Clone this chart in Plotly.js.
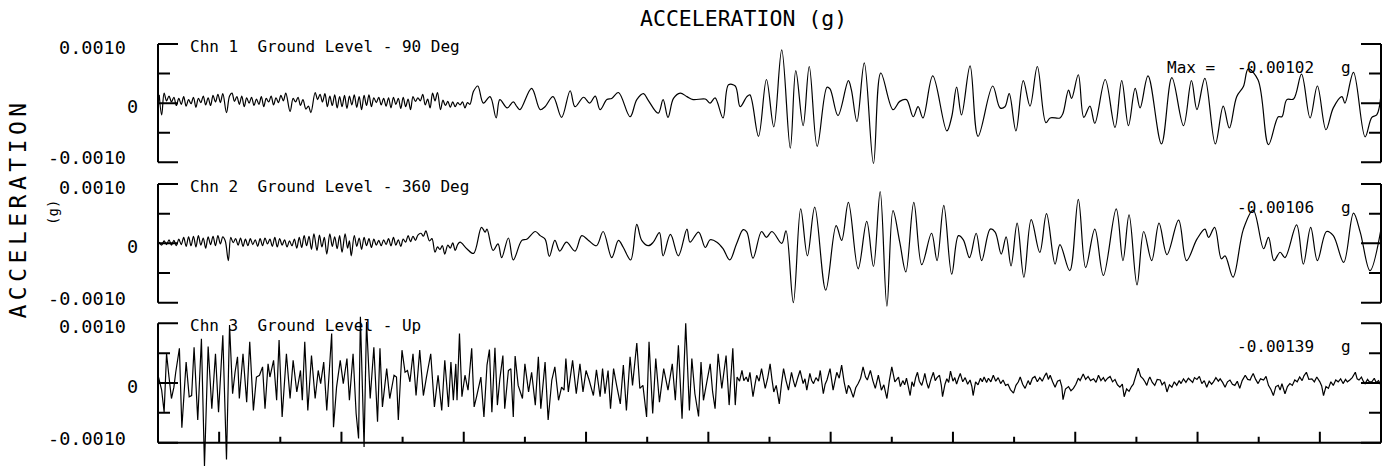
<!DOCTYPE html>
<html><head><meta charset="utf-8">
<script src="https://cdn.plot.ly/plotly-3.0.1.min.js"></script>
<style>
html,body{margin:0;padding:0;background:#fff;overflow:hidden;}
#chart{width:1392px;height:466px;}
.annotation-text{white-space:pre;}
</style>
</head><body><div id="chart"></div>
<script>
// ---- Channel 1 : Ground Level - 90 Deg (time s, acceleration g)
const t1Quiet = [0.02,0.06,0.10,0.14,0.18,0.22,0.26,0.30,0.34,0.38,0.42,0.46,0.50,0.54,0.58,0.62,0.66,0.70,0.74,0.78,0.82,0.86,0.90,0.94,0.98,1.02,1.06,1.12,1.17,1.21,1.25,1.29,1.33,1.37,1.41,1.45,1.49,1.53,1.57,1.61,1.65,1.69,1.73,1.77,1.81,1.85,1.89,1.93,1.97,2.01,2.05,2.09,2.16,2.21,2.25,2.29,2.33,2.37,2.42,2.46,2.50,2.57,2.61,2.65,2.69,2.73,2.77,2.81,2.85,2.89,2.93,2.97,3.01,3.05,3.09,3.13,3.17,3.21,3.25,3.29,3.33,3.37,3.41,3.45,3.49,3.53,3.57,3.61,3.65,3.69,3.73,3.77,3.81,3.85,3.89,3.93,3.97,4.01,4.05,4.09,4.13,4.17,4.21,4.25,4.29,4.33,4.37,4.41,4.45,4.49,4.53,4.57,4.62,4.66,4.70,4.74,4.78,4.82,4.86,4.90,4.94,4.98,5.02,5.06,5.10,5.16,5.23];
const a1Quiet = [0.00014,-0.0002,0.00017,0.00004,0.00012,0.00002,0.0001,-0.00004,0.00008,-0.00002,0.00011,-0.00005,0.00006,-0.00001,0.0001,-0.00007,0.00008,0.00001,0.00012,-0.00003,0.00009,-0.00004,0.00013,0.00002,0.00015,0.00001,0.00016,-0.00016,0.00012,0.00017,0.00003,0.00011,-0.00002,0.00012,-0.00006,0.00009,0,0.0001,-0.00004,0.00007,-0.00002,0.00011,-0.00006,0.00008,0.00002,0.00012,-0.00003,0.00009,0.00001,0.00013,0.00004,0.00017,-0.00014,0.00008,0.00002,0.0001,-0.00004,0.00006,-0.0001,-0.00005,-0.00016,0.00018,0.00006,0.00015,0.00002,0.00016,-0.00006,0.00012,-0.00004,0.00014,-0.00008,0.00011,-0.00006,0.00013,-0.00009,0.00012,-0.00003,0.00014,-0.00007,0.00011,-0.00011,0.00013,-0.00004,0.00014,-0.00006,0.00009,0.00001,0.0001,-0.00003,0.00008,-0.00005,0.00009,-0.00008,0.0001,-0.00002,0.00008,-0.00009,0.0001,-0.00006,0.00007,-0.00011,0.00011,0.00003,0.00009,0.00004,0.00015,-0.00003,0.00007,-0.00008,0.00017,0.00004,0.00018,-0.00011,0.00005,-0.00004,0.00003,-0.00007,0.00002,-0.00006,0.00001,-0.00003,0.00002,-0.00008,0.00001,-0.00002,0.0002,0.00029];
const t1Strong = [5.32,5.43,5.53,5.59,5.71,5.81,5.87,5.92,6.11,6.25,6.33,6.46,6.60,6.74,6.82,6.96,7.06,7.15,7.23,7.34,7.42,7.53,7.72,7.83,7.94,8.01,8.18,8.26,8.34,8.43,8.54,8.65,8.75,8.95,9.03,9.11,9.24,9.33,9.44,9.52,9.63,9.68,9.82,9.95,10.07,10.20,10.34,10.43,10.55,10.65,10.78,10.94,10.99,11.12,11.29,11.34,11.43,11.55,11.70,11.82,12.02,12.13,12.24,12.35,12.43,12.51,12.67,12.90,12.98,13.06,13.14,13.28,13.41,13.65,13.77,13.85,13.92,14.03,14.15,14.26,14.38,14.52,14.59,14.75,14.80,14.89,14.94,15.05,15.14,15.24,15.32,15.49,15.65,15.76,15.87,15.98,16.06,16.19,16.41,16.58,16.77,16.90,16.99,17.12,17.29,17.42,17.52,17.64,17.75,17.83,17.99,18.16,18.32,18.38,18.46,18.57,18.70,18.84,18.96,19.10,19.22,19.36,19.41,19.55,19.74,19.85,19.93,20.00];
const a1Strong = [0,0.00011,-0.00025,0.00006,-0.00008,0.00002,-0.00006,-0.00011,0.00025,-0.00011,-0.00006,0.00011,-0.00024,0.00021,-0.00006,0.0001,0,0.00012,-0.00011,0.00006,0.00008,0.00018,-0.00023,0.00006,0.00016,0.00006,-0.00017,0.00006,-0.00024,0.00008,0.00017,0.00011,0.00006,0.00007,0,0.00009,-0.00025,0.00031,0.00029,-0.00006,0.00011,0.00014,-0.00056,0.0004,-0.0004,0.0009,-0.00076,0.00055,-0.00038,0.00062,-0.00073,0.00027,0.00024,-0.00021,0.00038,0.00022,-0.00031,0.00068,-0.00102,0.00051,-0.00011,0.00003,0.00006,-0.00023,-0.00006,-0.00025,0.00046,-0.00047,-0.00023,0.00027,-0.0002,0.00063,-0.00056,0.00029,-0.00008,-0.00006,0.00016,-0.00047,0.00038,-0.00005,0.00062,-0.00033,-0.00025,-0.00025,-0.00017,0.00022,0.00008,0.00048,-0.00024,-0.00005,-0.00034,0.0004,-0.00041,0.00038,-0.00038,0.00025,-0.00008,0.00046,-0.00069,0.00043,-0.00038,0.00038,-0.00011,0.00042,-0.00069,-0.00005,-0.00042,0.00011,0.00028,0.00058,0.00039,-0.0007,-0.00023,-0.00023,0.00006,0.00007,0.00049,-0.00025,0.00029,-0.00045,-0.00008,0.00011,0,0.00052,-0.00057,-0.00024,-0.0002,0.00014];

// ---- Channel 2 : Ground Level - 360 Deg
const t2Quiet = [0.02,0.06,0.10,0.14,0.18,0.22,0.26,0.30,0.34,0.38,0.42,0.46,0.50,0.54,0.58,0.62,0.66,0.70,0.74,0.78,0.82,0.86,0.90,0.94,0.98,1.02,1.06,1.10,1.15,1.19,1.23,1.27,1.31,1.35,1.39,1.43,1.47,1.51,1.55,1.59,1.63,1.67,1.71,1.75,1.79,1.83,1.87,1.91,1.95,1.99,2.03,2.07,2.11,2.15,2.19,2.23,2.27,2.31,2.35,2.39,2.43,2.47,2.51,2.55,2.60,2.64,2.68,2.72,2.76,2.81,2.85,2.89,2.93,2.97,3.01,3.06,3.10,3.13,3.16,3.21,3.25,3.29,3.33,3.37,3.41,3.45,3.49,3.53,3.57,3.61,3.65,3.69,3.73,3.77,3.81,3.85,3.89,3.93,3.97,4.01,4.05,4.09,4.13,4.17,4.21,4.25,4.30,4.34,4.38,4.44,4.48,4.53,4.57,4.61,4.65,4.69,4.74,4.78,4.82,4.86,4.90,4.94];
const a2Quiet = [0.00002,-0.00003,0.00004,-0.00002,0.00006,-0.00003,0.00005,-0.00004,0.00007,-0.00002,0.0001,-0.00005,0.00011,-0.00004,0.00012,-0.00006,0.00013,-0.00003,0.00009,-0.00008,0.00011,-0.00002,0.00012,-0.00004,0.00013,-0.00001,0.00011,0.00004,-0.00029,0.0001,0.00001,0.00008,-0.00003,0.00009,-0.00005,0.00007,-0.00004,0.00008,-0.00002,0.00006,-0.00005,0.00008,-0.00004,0.00009,-0.00001,0.00007,-0.00005,0.0001,-0.00006,0.00008,-0.00003,0.00006,-0.00006,0.00004,-0.00004,0.00007,-0.00008,0.0001,-0.00007,0.00013,-0.00004,0.00012,-0.0001,0.00016,-0.00012,0.00014,-0.00006,0.0001,-0.00018,0.00016,-0.00005,0.00011,-0.00009,0.00013,-0.00015,0.00016,-0.00008,0.00004,-0.00021,0.00013,-0.00005,0.00009,-0.0001,0.0001,-0.00004,0.00008,-0.00007,0.00007,-0.00003,0.00005,-0.00004,0.00006,-0.00002,0.00008,-0.00004,0.0001,-0.00003,0.00006,-0.00005,0.00007,0.00002,0.00013,0.00003,0.00012,0.00005,0.00014,0.00017,0.00012,0.00021,0.00004,0.00008,-0.00015,-0.00006,-0.0001,-0.00004,-0.00018,-0.00003,-0.00008,0.00001,-0.00012,-0.00002,0.00002];
const t2Strong = [5.05,5.16,5.29,5.35,5.38,5.48,5.56,5.62,5.73,5.81,5.95,6.03,6.17,6.25,6.33,6.40,6.49,6.57,6.68,6.82,6.93,7.04,7.17,7.28,7.42,7.53,7.61,7.73,7.83,7.91,8.02,8.10,8.20,8.26,8.38,8.51,8.65,8.70,8.84,8.95,9.03,9.14,9.24,9.35,9.46,9.57,9.63,9.73,9.87,9.95,10.04,10.20,10.27,10.39,10.51,10.62,10.74,10.92,11.09,11.18,11.29,11.45,11.59,11.70,11.81,11.92,12.02,12.13,12.23,12.36,12.49,12.65,12.74,12.85,12.98,13.09,13.17,13.27,13.38,13.47,13.61,13.69,13.79,13.87,13.95,14.05,14.16,14.28,14.42,14.53,14.67,14.75,14.91,15.05,15.17,15.32,15.46,15.67,15.78,15.88,16.01,16.12,16.25,16.37,16.50,16.69,16.82,16.99,17.12,17.18,17.28,17.39,17.45,17.58,17.75,17.91,18.08,18.16,18.25,18.35,18.43,18.62,18.73,18.85,18.96,19.11,19.22,19.39,19.55,19.66,19.82,20.00];
const a2Strong = [-0.00009,-0.00017,0.00027,0.00019,0.00024,-0.00012,-0.00001,-0.00024,0.00009,-0.00028,0.00005,0.00007,0.0002,0.00013,0.00007,-0.00022,0.00005,-0.00013,0.00002,-0.00013,0.00013,0.00005,-0.00004,0.0002,-0.00024,0.00005,-0.00007,-0.00028,0.00032,0.00005,-0.00004,0.00002,0.00018,-0.00021,0.00015,-0.00021,0.00024,0.00002,0.00019,-0.00007,0.00006,0.00002,-0.00009,-0.00028,-0.00001,0.00023,0.00019,-0.00025,0.0002,0.0001,0.0002,0,0.00021,-0.001,0.00058,-0.00021,0.00061,-0.00079,0.0003,0.00005,0.00069,-0.00043,0.00037,-0.00039,0.00087,-0.00106,0.00055,0.00002,-0.00048,0.00069,-0.00036,0.00017,-0.00029,0.00064,-0.00052,0.00013,0.00006,-0.00024,0.00017,-0.00029,0.00024,0.00019,-0.00018,0.00011,-0.00038,0.00034,-0.00057,0.0004,-0.00015,0.0005,-0.00035,-0.00002,-0.00046,0.00074,-0.00041,0.00024,-0.00054,0.00058,-0.00029,0.00048,-0.0007,0.0002,-0.00029,0.00034,-0.00019,0.00039,-0.00029,0.00007,0.00024,0.0001,0.00027,-0.00026,-0.00021,-0.00057,0.00024,0.00056,-0.00009,0.0001,-0.00029,-0.00015,-0.00024,0.00031,-0.00035,0.00027,-0.00029,0.0002,0.00013,-0.00032,0.00051,0.00019,-0.00046,0.00024];

// ---- Channel 3 : Ground Level - Up
const t3Strong = [0.00,0.06,0.10,0.14,0.18,0.22,0.26,0.29,0.35,0.39,0.46,0.51,0.55,0.59,0.65,0.71,0.76,0.82,0.88,0.94,0.99,1.06,1.12,1.17,1.22,1.26,1.30,1.33,1.39,1.45,1.50,1.56,1.61,1.66,1.71,1.75,1.80,1.83,1.89,1.94,1.98,2.03,2.10,2.16,2.21,2.27,2.33,2.36,2.40,2.45,2.51,2.57,2.62,2.66,2.71,2.76,2.84,2.87,2.92,2.98,3.03,3.09,3.13,3.19,3.24,3.28,3.31,3.37,3.41,3.47,3.53,3.59,3.63,3.67,3.74,3.79,3.86,3.90,3.93,3.99,4.04,4.08,4.12,4.17,4.22,4.28,4.34,4.39,4.46,4.52,4.58,4.64,4.69,4.75,4.79,4.83,4.87,4.89,4.93,4.97,5.02,5.07,5.13,5.17,5.21,5.28,5.33,5.38,5.42,5.46,5.51,5.55,5.59,5.64,5.67,5.73,5.77,5.81,5.84,5.89,5.96,6.00,6.06,6.11,6.17,6.22,6.26,6.33,6.38,6.44,6.49,6.55,6.60,6.64,6.67,6.71,6.78,6.84,6.90,6.95,7.00,7.05,7.12,7.17,7.23,7.27,7.31,7.36,7.40,7.45,7.50,7.56,7.61,7.66,7.72,7.76,7.83,7.88,7.93,7.99,8.03,8.09,8.14,8.20,8.27,8.34,8.41,8.46,8.51,8.57,8.63,8.69,8.73,8.78,8.84,8.88,8.92,8.97,9.03,9.07,9.11,9.16,9.22,9.29,9.34,9.40,9.44];
const a3Strong = [0.00013,-0.00012,-0.00049,0.00049,0.0001,-0.00026,-0.00007,0.00018,0.00058,-0.00075,0.00035,-0.00023,-0.00021,0.0006,-0.00062,0.00074,-0.00139,0.00061,-0.00043,0.00049,-0.00049,0.0008,-0.00128,0.00097,-0.00018,0.00018,0.00044,-0.00026,0.00049,-0.00032,0.00069,-0.00046,0.0001,0.00013,0.00027,-0.00043,0.00032,0.0001,0.00038,-0.00029,0.00072,-0.00057,0.00049,-0.00026,0.00038,-0.00015,0.00021,-0.00029,0.00069,-0.00046,0.00046,-0.00026,0.00021,-0.00001,0.00035,-0.00046,0.00083,-0.00074,-0.00007,0.00038,-0.00001,0.00041,-0.00029,0.00049,-0.00051,-0.00093,0.00111,-0.00107,0.00102,-0.00026,0.0006,-0.00065,0.00058,-0.0004,0.00024,-0.00026,0.00013,0.0001,-0.00062,0.00055,0.00018,0.00021,0.00002,0.00049,-0.00021,0.00055,-0.00021,0.0001,0.00049,-0.0004,0.00013,-0.00046,0.00038,-0.0004,0.00035,-0.00029,0.00032,-0.00029,0.00083,-0.00023,0.00013,-0.00012,0.00058,-0.0004,-0.00023,0.0001,-0.00057,0.0003,0.00056,-0.00049,0.00059,-0.00037,0.00007,0.00046,-0.00043,0.00021,0.00024,-0.00057,0.00045,-0.00004,-0.00026,0.00032,-0.00015,0.00018,-0.00037,0.00044,-0.00043,0.00035,-0.00062,0.00005,0.00027,-0.00029,-0.00007,-0.00012,0.00041,-0.00015,0.00038,-0.00018,0.00032,-0.00015,0.00021,0.00005,-0.00021,0.00022,-0.00023,0.00024,-0.00018,0.00021,-0.00043,0.00024,-0.00004,-0.00035,0.0003,-0.00046,0.00044,-0.00004,0.00067,-0.00009,-0.00004,-0.00057,0.00069,-0.00051,0.00041,-0.00032,0.00024,-0.00012,0.00032,-0.00029,0.00063,-0.0006,0.001,-0.00046,0.00041,-0.00018,-0.00056,0.00035,-0.00029,-0.00001,0.00032,-0.00015,-0.00043,0.00049,-0.00009,0.00046,-0.00037,0.00058,-0.00037];
const t3Quiet = [9.47,9.51,9.55,9.58,9.62,9.65,9.68,9.73,9.76,9.79,9.83,9.87,9.93,9.97,10.01,10.04,10.07,10.11,10.16,10.20,10.23,10.27,10.31,10.36,10.39,10.42,10.46,10.50,10.55,10.58,10.61,10.66,10.69,10.72,10.76,10.80,10.83,10.88,10.91,10.94,10.99,11.04,11.07,11.10,11.14,11.18,11.22,11.26,11.29,11.32,11.37,11.41,11.45,11.49,11.53,11.57,11.60,11.65,11.69,11.73,11.78,11.83,11.87,11.92,11.96,12.00,12.05,12.11,12.14,12.18,12.21,12.24,12.27,12.30,12.33,12.36,12.39,12.42,12.45,12.49,12.52,12.54,12.57,12.60,12.64,12.68,12.71,12.74,12.78,12.81,12.83,12.87,12.90,12.93,12.96,13.00,13.03,13.06,13.09,13.12,13.16,13.20,13.24,13.28,13.31,13.33,13.37,13.41,13.45,13.48,13.51,13.55,13.58,13.62,13.66,13.70,13.74,13.78,13.82,13.86,13.90,13.94,13.99,14.03,14.07,14.10,14.14,14.18,14.23,14.26,14.30,14.34,14.38,14.42,14.46,14.50,14.53,14.56,14.59,14.63,14.67,14.71,14.75,14.78,14.80,14.84,14.89,14.93,14.97,15.01,15.05,15.08,15.13,15.17,15.21,15.25,15.30,15.34,15.38,15.42,15.46,15.49,15.53,15.57,15.61,15.65,15.69,15.73,15.77,15.80,15.84,15.88,15.92,15.95,15.99,16.03,16.07,16.11,16.14,16.17,16.20,16.22,16.26,16.30,16.34,16.39,16.42,16.46,16.50,16.54,16.58,16.62,16.66,16.70,16.73,16.77,16.81,16.85,16.88,16.92,16.95,16.99,17.03,17.07,17.11,17.15,17.19,17.23,17.26,17.30,17.34,17.37,17.41,17.45,17.49,17.53,17.57,17.61,17.65,17.69,17.73,17.78,17.82,17.86,17.88,17.91,17.95,17.99,18.03,18.08,18.12,18.16,18.20,18.24,18.28,18.32,18.35,18.38,18.40,18.43,18.47,18.51,18.55,18.59,18.63,18.67,18.71,18.74,18.78,18.82,18.87,18.91,18.95,19.00,19.03,19.06,19.10,19.14,19.18,19.22,19.26,19.30,19.34,19.38,19.42,19.45,19.49,19.53,19.58,19.61,19.64,19.68,19.71,19.74,19.78,19.81,19.85,19.89,19.92,19.96,20.00];
const a3Quiet = [0.0001,0.00003,0.00021,0.00004,0.0001,0.00002,0.00018,-0.00023,-0.00004,0.00013,0.00003,0.00024,-0.00009,0.00008,0.00032,0.00006,-0.00015,-0.00004,-0.00035,0.00002,0.00024,0.00004,-0.00012,0.00018,0.00004,-0.00007,0.00008,0.00021,-0.00001,0.00007,-0.00012,0.00016,0.00004,-0.00001,0.00009,0.00003,0.00021,-0.00018,-0.00002,0.00005,0.00024,-0.00012,0.00003,0.00018,0.00008,0.0003,0.00002,-0.00018,-0.00004,-0.00009,-0.00024,-0.00008,-0.00001,0.00008,0.00027,0.0001,0.00005,0.00021,0.00004,-0.00009,0.00013,-0.00012,-0.00003,-0.00026,0.00004,0.00027,0.00002,0.0001,-0.00006,0.00004,-0.00003,0.00008,-0.00006,-0.00021,0.00002,-0.00006,0.00009,0.00018,0.00003,-0.00004,0.00007,0.00016,0.00001,-0.00009,0.00006,0.00018,0.00004,0.00009,0.00013,-0.00004,-0.00023,-0.00002,0.00007,0.00001,0.0002,0.00003,0.00009,-0.00002,0.00008,0.00016,0.00002,0.00009,-0.00002,0.00005,-0.00006,-0.00021,0.00002,-0.00003,0.00008,0.00002,0.0001,0.00001,0.00008,0.00002,0.00013,0.00003,0.00009,-0.00001,0.00005,-0.00004,-0.00002,-0.00011,-0.00017,-0.00004,0.00002,0.0001,-0.00002,-0.00009,0.00004,-0.00003,0.00008,0.00011,0.00002,0.00009,0.00003,0.00012,0.00017,0.00006,0.00013,0.00002,-0.00007,0.00003,0.00005,-0.00006,-0.00028,-0.0001,-0.00006,-0.00013,-0.00009,-0.00002,0.00008,0.00004,0.00015,0.00006,0.00011,0.00004,0.00007,0.00001,0.00013,0.00004,0.00009,0.00003,0.00008,0.00011,0.00002,0.00006,-0.00003,-0.00007,-0.00002,-0.00023,-0.0001,-0.00014,-0.00006,-0.00002,0.00012,0.00025,0.00011,0.00007,0.00002,-0.00004,0.00006,0.0001,0.00001,-0.00004,0.00006,0.00005,-0.00003,0.00002,-0.00015,-0.00003,-0.00007,0.00002,-0.00004,0.00004,-0.00001,0.00007,0.00001,0.00008,0.00005,0.00001,0.00009,0.00006,0.00011,-0.00001,0.00004,-0.00007,0.00003,-0.00002,0.00002,0.00009,0.00003,0.00007,0.00001,-0.00007,0.00002,0.00005,-0.00002,-0.00004,0.00003,-0.00009,0.00004,0.00013,0.00006,0.00005,0.0001,0.00016,0.00006,-0.00001,0.00007,0.00005,0.00011,-0.00004,-0.00011,-0.00021,-0.00006,-0.00004,-0.00012,-0.00001,-0.00008,-0.00018,-0.00006,-0.00001,-0.00004,0.00005,0.00002,0.0001,0.00004,0.00012,0.00018,0.00006,0.00007,0.00002,0.0001,0.00002,-0.00005,-0.00021,-0.00006,-0.00009,0.00002,-0.00004,0.00005,0.00002,0.00007,-0.00001,0.00006,0.00002,0.00005,0.00009,0.00018,0.00007,0.00005,0.0001,0.00003,-0.00001,0.00006,0.00002,0.00002,0.00008,0.00001,0.00004,-0.00004];

// ---- Labels and ticks
const chartTitle = 'ACCELERATION (g)';
const yTitle = 'ACCELERATION';
const yUnit = '(g)';
const channelNames = ['Chn 1  Ground Level - 90 Deg', 'Chn 2  Ground Level - 360 Deg', 'Chn 3  Ground Level - Up'];
const peakValues = ['-0.00102', '-0.00106', '-0.00139'];
const peakPrefix = 'Max =';
const peakUnit = 'g';
const yFrame = [-0.001, 0.001];
const yTickVals = [0.001, 0, -0.001];
const yTickText = ['0.0010', '0', '-0.0010'];
const yMinorTickVals = [0.0005, -0.0005];
const xRange = [0, 20];
const xMajorTickVals = [1,3,5,7,9,11,13,15,17,19];
const xMinorTickVals = [2,4,6,8,10,12,14,16,18];

const FONT = 'DejaVu Sans Mono, monospace';
const series = [
  [t1Quiet.concat(t1Strong), a1Quiet.concat(a1Strong)],
  [t2Quiet.concat(t2Strong), a2Quiet.concat(a2Strong)],
  [t3Strong.concat(t3Quiet), a3Strong.concat(a3Quiet)]
];
const yIds = ['y','y2','y3'];
// panel axes: the visible frame spans -0.001..0.001, the axis range is a bit wider so the trace can run past it
const domains = [[0.62633,0.93097],[0.32496,0.63062],[0,0.33183]];
const ranges = [[-0.0012,0.0012],[-0.0012,0.0012],[-0.0013905,0.0012]];

const traces = series.map((s,i) => ({
  x: s[0], y: s[1], xaxis: 'x', yaxis: yIds[i], type: 'scatter', mode: 'lines',
  line: {color: '#000', width: 1.2, shape: i < 2 ? 'spline' : 'linear', smoothing: 1, simplify: false},
  hoverinfo: 'skip', showlegend: false
}));

const layout = {
  width: 1392, height: 466,
  margin: {l: 158, r: 11, t: 0, b: 0},
  paper_bgcolor: '#fff', plot_bgcolor: 'rgba(0,0,0,0)',
  font: {family: FONT, color: '#000'},
  showlegend: false,
  xaxis: {domain: [0,1], range: xRange, anchor: 'y3', fixedrange: true, visible: false},
  annotations: [],
  shapes: []
};

const LINE = {color: '#000', width: 2};
const tick = (id, v, side, len) => ({
  type: 'line', xref: 'x', xsizemode: 'pixel', xanchor: xRange[side], x0: 0, x1: side === 0 ? len : -len,
  yref: id, y0: v, y1: v, line: LINE
});

yIds.forEach((id, i) => {
  const key = i === 0 ? 'yaxis' : 'yaxis' + (i+1);
  layout[key] = {domain: domains[i], range: ranges[i], anchor: 'x', fixedrange: true, visible: false};

  layout.shapes.push({type: 'line', xref: 'paper', x0: 0, x1: 0, yref: id, y0: yFrame[0], y1: yFrame[1], line: LINE});
  layout.shapes.push({type: 'line', xref: 'paper', x0: 1, x1: 1, yref: id, y0: yFrame[0], y1: yFrame[1], line: LINE});
  [0, 1].forEach(side => {
    yTickVals.forEach(v => layout.shapes.push(tick(id, v, side, 20)));
    yMinorTickVals.forEach(v => layout.shapes.push(tick(id, v, side, 12)));
  });

  yTickVals.forEach((v, k) => {
    layout.annotations.push({
      xref: 'paper', yref: id, x: 0, y: v, xanchor: 'right', yanchor: 'middle',
      xshift: yTickText[k] === '0' ? -18 : -30, yshift: k === 2 ? 4.5 : -3.5,
      text: yTickText[k], showarrow: false, font: {family: FONT, size: 18.5, color: '#000'}
    });
  });
  layout.annotations.push({
    xref: 'paper', yref: id, x: 0.0245, y: yFrame[1], xanchor: 'left', yanchor: 'middle', yshift: -2.5,
    text: channelNames[i], showarrow: false, font: {family: FONT, size: 16, color: '#000'}
  });
  if (i === 0) {
    layout.annotations.push({
      xref: 'paper', yref: id, x: 0.8234, y: yFrame[1], xanchor: 'left', yanchor: 'middle', yshift: -23.5,
      text: peakPrefix, showarrow: false, font: {family: FONT, size: 16, color: '#000'}
    });
  }
  layout.annotations.push({
    xref: 'paper', yref: id, x: 0.8806, y: yFrame[1], xanchor: 'left', yanchor: 'middle', yshift: -23.5,
    text: peakValues[i], showarrow: false, font: {family: FONT, size: 16, color: '#000'}
  });
  layout.annotations.push({
    xref: 'paper', yref: id, x: 0.9657, y: yFrame[1], xanchor: 'left', yanchor: 'middle', yshift: -23.5,
    text: peakUnit, showarrow: false, font: {family: FONT, size: 16, color: '#000'}
  });
});

// time axis along the bottom of the last panel
layout.shapes.push({type: 'line', xref: 'x', x0: xRange[0], x1: xRange[1], yref: 'y3', y0: yFrame[0], y1: yFrame[0], line: LINE});
xMajorTickVals.forEach(t => layout.shapes.push({type: 'line', xref: 'x', x0: t, x1: t, yref: 'y3', ysizemode: 'pixel', yanchor: yFrame[0], y0: 0, y1: 11, line: LINE}));
xMinorTickVals.forEach(t => layout.shapes.push({type: 'line', xref: 'x', x0: t, x1: t, yref: 'y3', ysizemode: 'pixel', yanchor: yFrame[0], y0: 0, y1: 6, line: LINE}));

layout.annotations.push({
  xref: 'paper', yref: 'paper', x: 0.4787, y: 0.9607, xanchor: 'center', yanchor: 'middle',
  text: chartTitle, showarrow: false, font: {family: FONT, size: 21.5, color: '#000'}
});
layout.annotations.push({
  xref: 'paper', yref: 'paper', x: -0.1141, y: 0.5536, xanchor: 'center', yanchor: 'middle', textangle: -90,
  text: yTitle, showarrow: false, font: {family: FONT, size: 23, color: '#000'}
});
layout.annotations.push({
  xref: 'paper', yref: 'paper', x: -0.0859, y: 0.545, xanchor: 'center', yanchor: 'middle', textangle: -90,
  text: yUnit, showarrow: false, font: {family: FONT, size: 14, color: '#000'}
});

Plotly.newPlot('chart', traces, layout, {staticPlot: true, displayModeBar: false}).then(gd => {
  gd.querySelectorAll('.annotation-text').forEach(el => {
    if (el.textContent === yTitle) el.style.letterSpacing = '4.5px';
  });
});
</script>
</body></html>
